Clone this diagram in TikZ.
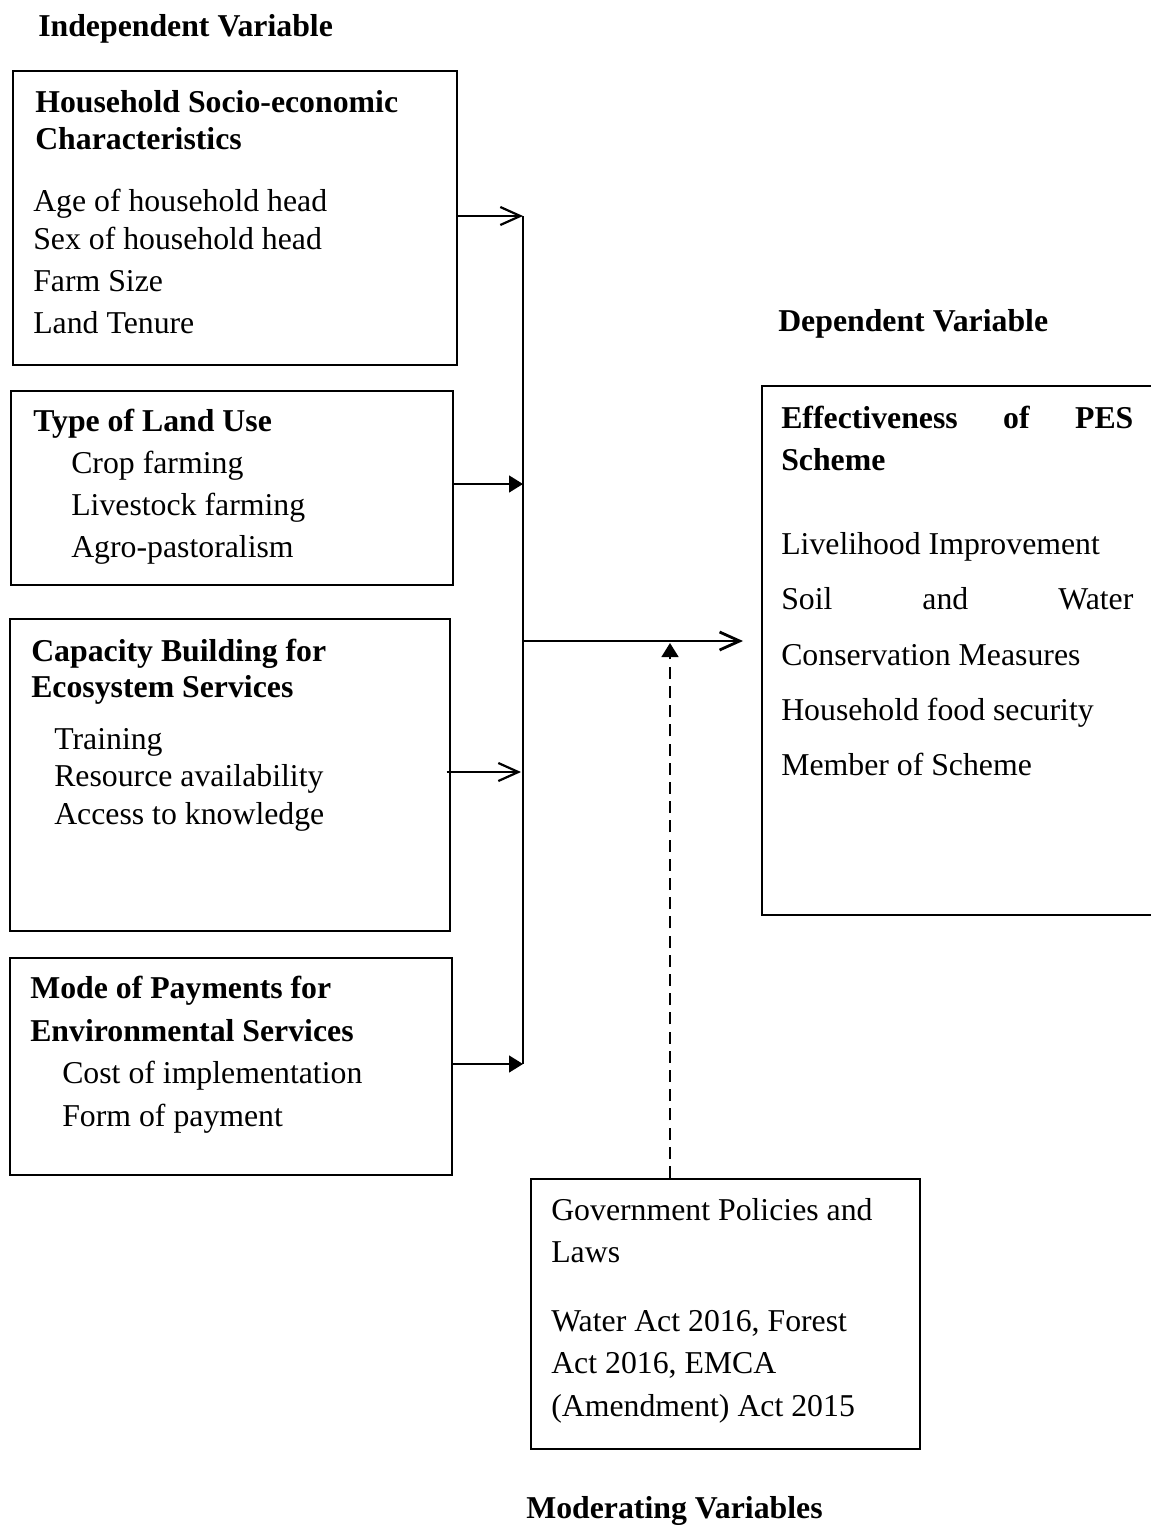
\documentclass[tikz,border=0pt]{standalone}
\usepackage{fontspec}
\setmainfont{Liberation Serif}
\usetikzlibrary{arrows.meta}
\tikzset{
  txt/.style={anchor=base west, inner sep=0pt, font=\fontsize{22.6}{27}\selectfont},
  hd/.style={anchor=base west, inner sep=0pt, font=\fontsize{22.6}{27}\selectfont\bfseries},
  box/.style={draw, line width=0.04cm, inner sep=0pt, anchor=north west},
  open/.style={line width=0.055cm, -{Straight Barb[length=0.5cm,width=0.45cm]}},
  filltip/.style={line width=0.055cm, -{Triangle[length=0.35cm,width=0.42cm]}}
}
\begin{document}
\begin{tikzpicture}[x=0.025cm,y=-0.025cm]
  \useasboundingbox (0,0) rectangle (1151,1528);
  % boxes
  \node[box, minimum width=11.1cm, minimum height=7.35cm] (hh) at (12,70) {};
  \node[box, minimum width=11.05cm, minimum height=4.85cm] (landuse) at (10,390) {};
  \node[box, minimum width=11cm, minimum height=7.8cm] (cap) at (9,618) {};
  \node[box, minimum width=11.05cm, minimum height=5.425cm] (mode) at (9,957) {};
  \node[box, minimum width=9.875cm, minimum height=13.225cm] (eff) at (761,385) {};
  \node[box, minimum width=9.725cm, minimum height=6.75cm] (gov) at (530,1178) {};
  % headings
  \node[hd] (indep) at (38,36) {Independent Variable};
  \node[hd] (dep) at (778,331) {Dependent Variable};
  \node[hd] (moder) at (526,1518) {Moderating Variables};
  % household
  \node[hd] (hh1) at (35,112) {Household Socio-economic};
  \node[hd] (hh2) at (35,149) {Characteristics};
  \node[txt] (age) at (33,211) {Age of household head};
  \node[txt] (sex) at (33,249) {Sex of household head};
  \node[txt] (farm) at (33,291) {Farm Size};
  \node[txt] (tenure) at (33,333) {Land Tenure};
  % land use
  \node[hd] (lu1) at (33,431) {Type of Land Use};
  \node[txt] (crop) at (71,473) {Crop farming};
  \node[txt] (live) at (71,515) {Livestock farming};
  \node[txt] (agro) at (71,557) {Agro-pastoralism};
  % capacity
  \node[hd] (cb1) at (31,661) {Capacity Building for};
  \node[hd] (cb2) at (31,697) {Ecosystem Services};
  \node[txt] (train) at (54,749) {Training};
  \node[txt] (res) at (54,786) {Resource availability};
  \node[txt] (know) at (54,824) {Access to knowledge};
  % payments
  \node[hd] (pay1) at (30,998) {Mode of Payments for};
  \node[hd] (pay2) at (30,1041) {Environmental Services};
  \node[txt] (cost) at (62,1083) {Cost of implementation};
  \node[txt] (form) at (62,1126) {Form of payment};
  % effectiveness
  \node[hd] (ef1) at (781,428) {\makebox[8.8cm][l]{Effectiveness\hfill of\hfill PES}};
  \node[hd] (ef2) at (781,470) {Scheme};
  \node[txt] (liv) at (781,554) {Livelihood Improvement};
  \node[txt] (soil) at (781,609) {\makebox[8.8cm][l]{Soil\hfill and\hfill Water}};
  \node[txt] (cons) at (781,665) {Conservation Measures};
  \node[txt] (food) at (781,720) {Household food security};
  \node[txt] (memb) at (781,775) {Member of Scheme};
  % government
  \node[txt] (g1) at (551,1220) {Government Policies and};
  \node[txt] (g2) at (551,1262) {Laws};
  \node[txt] (g3) at (551,1331) {Water Act 2016, Forest};
  \node[txt] (g4) at (551,1373) {Act 2016, EMCA};
  \node[txt] (g5) at (551,1416) {(Amendment) Act 2015};
  % connectors
  \coordinate (bustop) at (523,216);
  \coordinate (busbot) at (523,1064);
  \coordinate (lu) at (523,484);
  \coordinate (cb) at (521,772);
  \coordinate (mid) at (523,641);
  \coordinate (effin) at (743,641);
  \coordinate (mtip) at (670,643);
  \draw[line width=0.055cm] (bustop) -- (busbot);
  \draw[open] (hh.east |- bustop) -- (bustop);
  \draw[filltip] (landuse.east |- lu) -- (lu);
  \draw[open] ([xshift=-0.1cm]cap.east |- cb) -- (cb);
  \draw[filltip] (mode.east |- busbot) -- (busbot);
  \draw[open, line width=0.07cm] (mid) -- (effin);
  \draw[filltip, dashed, dash pattern=on 0.3cm off 0.18cm] (gov.north -| mtip) -- (mtip);
\end{tikzpicture}
\end{document}
